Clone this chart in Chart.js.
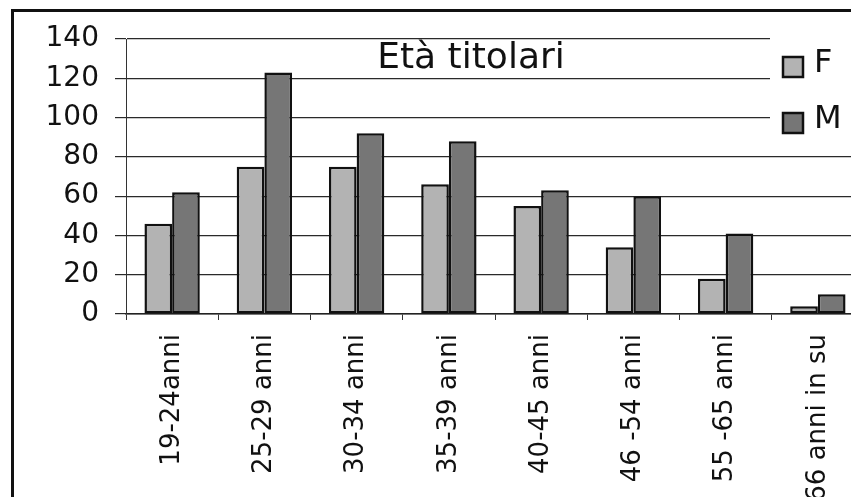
<!DOCTYPE html>
<html lang="it">
<head>
    <meta charset="UTF-8">
    <title>Età titolari</title>
    <style>
        html, body {
            margin: 0;
            padding: 0;
            background: #fff;
            overflow: hidden;
        }
        .frame {
            position: absolute;
            left: 11px;
            top: 9px;
            width: 950px;
            height: 600px;
            border-top: 3px solid #111;
            border-left: 3px solid #111;
        }
        .chart-container {
            position: absolute;
            left: 0;
            top: 0;
            width: 880px;
            height: 540px;
        }
    </style>
</head>
<body>
    <div class="frame"></div>
    <div class="chart-container">
        <canvas id="ageChart"></canvas>
    </div>

    <script src="https://cdn.jsdelivr.net/npm/chart.js@4.4.0/dist/chart.umd.min.js"></script>
    <script>
        const chartTitle = 'Età titolari';
        const categories = ['19-24anni', '25-29 anni', '30-34 anni', '35-39 anni', '40-45 anni', '46 -54 anni', '55 -65 anni', '66 anni in su'];
        const femaleValues = [46, 75, 75, 66, 55, 34, 18, 4];
        const maleValues = [62, 123, 92, 88, 63, 60, 41, 10];
        const yTicks = [0, 20, 40, 60, 80, 100, 120, 140];

        const FONT = '"DejaVu Sans", sans-serif';

        // title sits inside the plot, like the original spreadsheet chart
        const titlePlugin = {
            id: 'innerTitle',
            afterDraw(chart) {
                const ctx = chart.ctx;
                ctx.save();
                ctx.font = '36px ' + FONT;
                ctx.fillStyle = '#111';
                ctx.textAlign = 'center';
                ctx.textBaseline = 'middle';
                ctx.fillText(chartTitle, 471, 59);
                ctx.restore();
            }
        };

        // legend box at top right, covering the gridlines behind it
        const legendPlugin = {
            id: 'boxLegend',
            afterDatasetsDraw(chart) {
                const ctx = chart.ctx;
                ctx.save();
                ctx.fillStyle = '#fff';
                ctx.fillRect(770, 28, 120, 116);
                chart.data.datasets.forEach((ds, i) => {
                    const y = 57 + i * 56;
                    ctx.fillStyle = ds.backgroundColor;
                    ctx.fillRect(783, y, 20, 20);
                    ctx.lineWidth = 2.5;
                    ctx.strokeStyle = '#111';
                    ctx.strokeRect(783, y, 20, 20);
                    ctx.fillStyle = '#111';
                    ctx.font = '32px ' + FONT;
                    ctx.textBaseline = 'middle';
                    ctx.textAlign = 'left';
                    ctx.fillText(ds.label, 814, y + 7);
                });
                ctx.restore();
            }
        };

        const ctx = document.getElementById('ageChart').getContext('2d');
        const ageChart = new Chart(ctx, {
            type: 'bar',
            data: {
                labels: categories,
                datasets: [{
                    label: 'F',
                    data: femaleValues,
                    backgroundColor: '#b3b3b3',
                    borderColor: '#111',
                    borderWidth: 2.5,
                    borderSkipped: false
                }, {
                    label: 'M',
                    data: maleValues,
                    backgroundColor: '#767676',
                    borderColor: '#111',
                    borderWidth: 2.5,
                    borderSkipped: false
                }]
            },
            options: {
                responsive: true,
                maintainAspectRatio: false,
                animation: false,
                datasets: {
                    bar: {
                        categoryPercentage: 0.6,
                        barPercentage: 1.0
                    }
                },
                layout: {
                    padding: { top: 39, right: 16, left: 0, bottom: 0 }
                },
                plugins: {
                    legend: { display: false },
                    title: { display: false },
                    tooltip: { enabled: false }
                },
                scales: {
                    x: {
                        afterFit: scale => { scale.height = 226; },
                        grid: {
                            drawOnChartArea: false,
                            drawTicks: true,
                            tickLength: 6,
                            color: '#333'
                        },
                        border: { color: '#222', width: 1.5 },
                        ticks: {
                            autoSkip: false,
                            maxRotation: 90,
                            minRotation: 90,
                            padding: 14,
                            color: '#111',
                            font: { family: FONT, size: 26 }
                        }
                    },
                    y: {
                        min: 0,
                        max: 140,
                        afterFit: scale => { scale.width = 126; },
                        afterBuildTicks: axis => { axis.ticks = yTicks.map(v => ({ value: v })); },
                        grid: {
                            color: '#2a2a2a',
                            lineWidth: 1.2,
                            tickLength: 11
                        },
                        border: { color: '#333', width: 1 },
                        ticks: {
                            padding: 16,
                            color: '#111',
                            font: { family: FONT, size: 28 }
                        }
                    }
                }
            },
            plugins: [titlePlugin, legendPlugin]
        });
    </script>
</body>
</html>
